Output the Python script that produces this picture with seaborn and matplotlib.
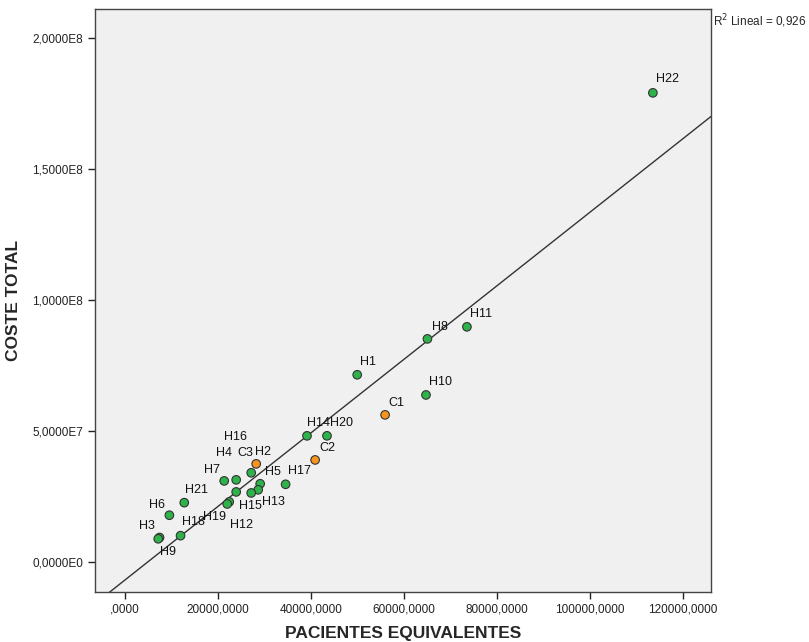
import numpy as np
import pandas as pd
import matplotlib
matplotlib.use('Agg')
import matplotlib.pyplot as plt
import seaborn as sns
from matplotlib.ticker import FuncFormatter

# data
labels = ['H1', 'H2', 'H3', 'H4', 'H5', 'H6', 'H7', 'H8', 'H9', 'H10', 'H11',
          'H12', 'H13', 'H14', 'H15', 'H16', 'H17', 'H18', 'H19', 'H20', 'H21',
          'H22', 'C1', 'C2', 'C3']
pacientes = [49900, 27100, 7380, 23870, 29030, 9500, 21290, 65000, 7100, 64700,
             73500, 22370, 28600, 39100, 27100, 23870, 34500, 11900, 21940,
             43400, 12700, 113500, 55900, 40850, 28170]
coste = [71.4e6, 34.0e6, 9.3e6, 31.3e6, 29.8e6, 17.8e6, 30.9e6, 85.1e6, 8.8e6,
         63.7e6, 89.7e6, 22.9e6, 27.5e6, 48.1e6, 26.3e6, 26.7e6, 29.6e6, 10.0e6,
         22.1e6, 48.1e6, 22.6e6, 179.0e6, 56.1e6, 38.9e6, 37.4e6]
r2_lineal = 0.926

# label offsets in pixels (dx, dy) from each point
offsets = {
    'H1': (11, 13), 'H2': (12, 21), 'H3': (-13, 11), 'H4': (-12, 27),
    'H5': (13, 12), 'H6': (-12, 10), 'H7': (-12, 11), 'H8': (13, 12),
    'H9': (10, -13), 'H10': (14, 13), 'H11': (14, 13), 'H12': (12, -23),
    'H13': (15, -12), 'H14': (12, 13), 'H15': (-1, -13), 'H16': (-1, 55),
    'H17': (14, 13), 'H18': (13, 14), 'H19': (-13, -13), 'H20': (15, 13),
    'H21': (12, 13), 'H22': (15, 14), 'C1': (11, 12), 'C2': (12, 12),
    'C3': (-11, 11),
}

df = pd.DataFrame({'label': labels, 'pacientes': pacientes, 'coste': coste})
df['grupo'] = df['label'].str[0]

sns.set_style('ticks')
plt.rcParams.update({
    'font.family': ['Liberation Sans', 'DejaVu Sans'],
    'font.size': 8,
    'axes.edgecolor': '#444444',
    'axes.linewidth': 1.0,
    'xtick.color': '#222222',
    'ytick.color': '#222222',
})

fig = plt.figure(figsize=(8.09, 6.42), dpi=100)
ax = fig.add_axes([95/809, 50/642, 616/809, 583/642])
ax.set_facecolor('#F0F0F0')

ax.set_xlim(-6500, 126000)
ax.set_ylim(-11.5e6, 2.11e8)

sns.regplot(data=df, x='pacientes', y='coste', scatter=False, ci=None,
            truncate=False, color='#333333', line_kws={'linewidth': 1.0}, ax=ax)
sns.scatterplot(data=df, x='pacientes', y='coste', hue='grupo',
                palette={'H': '#2EB24A', 'C': '#F7941D'}, s=38,
                edgecolor='#333333', linewidth=0.8, legend=False, zorder=3, ax=ax)

for lab, xv, yv in zip(labels, pacientes, coste):
    dx, dy = offsets[lab]
    ax.annotate(lab, (xv, yv), xytext=(dx, dy), textcoords='offset pixels',
                ha='center', va='center', fontsize=9, color='#111111')

ax.set_xticks([0, 20000, 40000, 60000, 80000, 100000, 120000])
ax.set_yticks([0, 5e7, 1e8, 1.5e8, 2e8])


def fmt_x(v, pos):
    s = f"{v:.4f}".replace('.', ',')
    return s[1:] if s.startswith('0,') else s


def fmt_y(v, pos):
    if v == 0:
        return '0,0000E0'
    e = int(np.floor(np.log10(abs(v))))
    return f"{v / 10**e:.4f}".replace('.', ',') + f"E{e}"


ax.xaxis.set_major_formatter(FuncFormatter(fmt_x))
ax.yaxis.set_major_formatter(FuncFormatter(fmt_y))
ax.tick_params(direction='out', length=5, width=1, labelsize=8.5)

ax.set_xlabel('PACIENTES EQUIVALENTES', fontsize=12.5, fontweight='bold', labelpad=7)
ax.set_ylabel('COSTE TOTAL', fontsize=12.5, fontweight='bold', labelpad=8)

ax.text(1.003, 0.995, f"R$^2$ Lineal = {r2_lineal:.3f}".replace('.', ','),
        transform=ax.transAxes, ha='left', va='top', fontsize=8.5)

fig.savefig('out.png', dpi=100)
